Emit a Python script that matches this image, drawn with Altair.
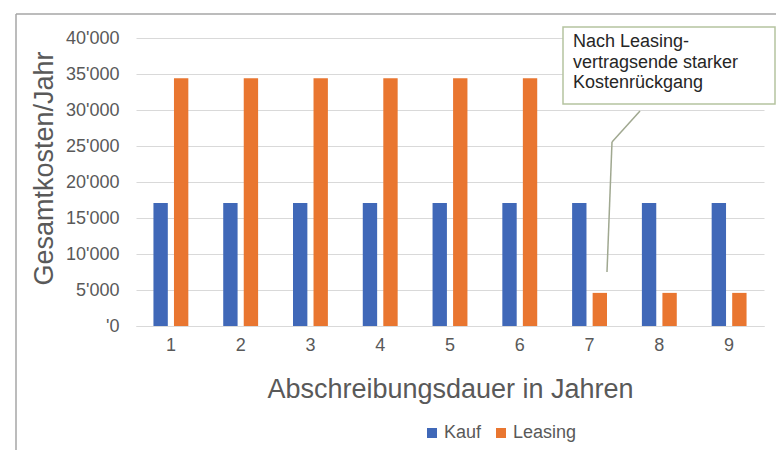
import altair as alt
import pandas as pd

years = ["1", "2", "3", "4", "5", "6", "7", "8", "9"]
kauf = [17100, 17100, 17100, 17100, 17100, 17100, 17100, 17100, 17100]
leasing = [34400, 34400, 34400, 34400, 34400, 34400, 4600, 4600, 4600]
series = ["Kauf", "Leasing"]
colors = ["#4068B8", "#E97630"]
y_ticks = [0, 5000, 10000, 15000, 20000, 25000, 30000, 35000, 40000]
note = ["Nach Leasing-", "vertragsende starker", "Kostenrückgang"]

rows = []
for i, yr in enumerate(years):
    rows.append({"Jahr": yr, "Serie": "Kauf", "Wert": kauf[i]})
    rows.append({"Jahr": yr, "Serie": "Leasing", "Wert": leasing[i]})
df = pd.DataFrame(rows)

FONT = "Liberation Sans"
GRAY = "#595959"

label_expr = "datum.value == 0 ? \"'0\" : replace(format(datum.value, ','), ',', \"'\")"

bars = alt.Chart(df).mark_bar().encode(
    x=alt.X("Jahr:N", sort=years,
            scale=alt.Scale(paddingInner=0.5, paddingOuter=0.25),
            axis=alt.Axis(title="Abschreibungsdauer in Jahren", labelAngle=0,
                          ticks=False, domain=True, domainColor="#D9D9D9",
                          labelFontSize=18, labelColor=GRAY, labelPadding=10,
                          titleFontSize=27, titleColor=GRAY, titleFontWeight="normal",
                          titleY=71, titleBaseline="alphabetic")),
    xOffset=alt.XOffset("Serie:N", sort=series, scale=alt.Scale(paddingInner=0.3)),
    y=alt.Y("Wert:Q", scale=alt.Scale(domain=[0, 40000]),
            axis=alt.Axis(title="Gesamtkosten/Jahr", values=y_ticks, labelExpr=label_expr,
                          ticks=False, domain=False, gridColor="#D9D9D9",
                          labelFontSize=18, labelColor=GRAY, labelPadding=17,
                          titleFontSize=27, titleColor=GRAY, titleFontWeight="normal",
                          titleX=-92, titleY=130, titleBaseline="middle", titleAngle=-90)),
    color=alt.Color("Serie:N", sort=series,
                    scale=alt.Scale(domain=series, range=colors),
                    legend=alt.Legend(title=None, orient="none", direction="horizontal",
                                      legendX=287, legendY=386, symbolType="square",
                                      symbolSize=100, labelFontSize=18, labelColor=GRAY,
                                      labelOffset=3, columnPadding=10, symbolStrokeWidth=0)),
)

one = pd.DataFrame({"a": [0]})

frame_left = alt.Chart(one).mark_rule(color="#A6A6A6", strokeWidth=1.5).encode(
    x=alt.value(-120), y=alt.value(-24), y2=alt.value(412))
frame_top = alt.Chart(one).mark_rule(color="#A6A6A6", strokeWidth=1.5).encode(
    x=alt.value(-120), x2=alt.value(640), y=alt.value(-24))

lead1 = alt.Chart(one).mark_rule(color="#A0A890", strokeWidth=1.5).encode(
    x=alt.value(504), y=alt.value(73), x2=alt.value(476), y2=alt.value(104))
lead2 = alt.Chart(one).mark_rule(color="#A0A890", strokeWidth=1.5).encode(
    x=alt.value(476), y=alt.value(104), x2=alt.value(471), y2=alt.value(234))

box = alt.Chart(one).mark_rect(fill="white", stroke="#B5C3A0", strokeWidth=1.5).encode(
    x=alt.value(427), x2=alt.value(639), y=alt.value(-11), y2=alt.value(66))

note_df = pd.DataFrame({"t": [note]})
note_text = alt.Chart(note_df).mark_text(
    align="left", baseline="alphabetic", font=FONT, fontSize=18, color="#262626",
    lineHeight=20.5).encode(
    x=alt.value(437), y=alt.value(9), text="t:N")

chart = alt.layer(frame_left, frame_top, bars, lead1, lead2, box, note_text).properties(
    width=628, height=288,
    autosize=alt.AutoSizeParams(type="none"),
    padding={"left": 136, "top": 38, "right": 12, "bottom": 124},
    background="white",
).configure(font=FONT).configure_view(stroke=None)

chart.save("out.html", embed_options={"renderer": "svg", "actions": False})
